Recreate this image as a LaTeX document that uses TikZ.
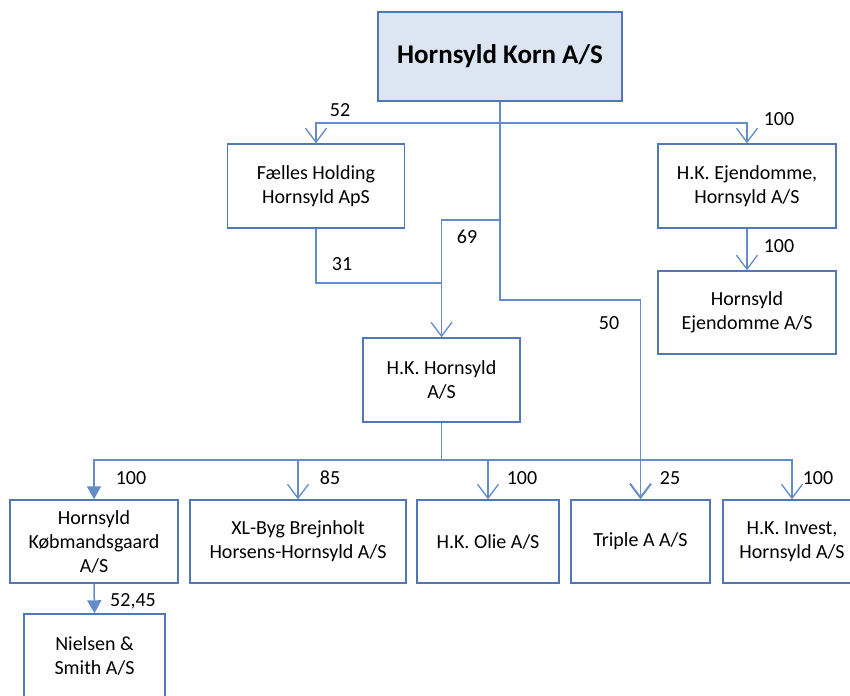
\documentclass[tikz,border=0pt]{standalone}
\usepackage{fontspec}
\setmainfont{Carlito}
\usetikzlibrary{arrows.meta,calc}
\definecolor{bordc}{RGB}{79,120,180}
\definecolor{linec}{RGB}{100,140,200}
\definecolor{topfill}{RGB}{220,230,242}
\begin{document}
\begin{tikzpicture}[x=1pt,y=-1pt,
  box/.style={draw=bordc,line width=1.4pt,fill=white,align=center,inner sep=2pt,
    font=\fontsize{20}{24}\selectfont},
  ln/.style={draw=linec,line width=1.5pt},
  arr/.style={ln,-{Straight Barb[length=14pt,width=21pt,line width=1.3pt]}},
  arrF/.style={ln,-{Triangle[length=13pt,width=14pt]}},
  arrB/.style={ln,line width=1.8pt,-{Straight Barb[length=14pt,width=21pt,line width=2pt]}},
  lab/.style={font=\fontsize{20}{22}\selectfont,anchor=center}]
\clip (0,0) rectangle (850,695);
\fill[white] (0,0) rectangle (850,695);
% boxes
\node[box,fill=topfill,minimum width=244pt,minimum height=89pt,font=\fontsize{27}{30}\selectfont\bfseries] (top) at (500,56.5) {Hornsyld Korn A/S};
\node[box,minimum width=177pt,minimum height=84pt] (fh) at (316,186) {Fælles Holding\\Hornsyld ApS};
\node[box,minimum width=178pt,minimum height=84pt] (hke) at (747,186) {H.K. Ejendomme,\\Hornsyld A/S};
\node[box,minimum width=178pt,minimum height=83pt] (hei) at (747,312.5) {Hornsyld\\Ejendomme A/S};
\node[box,minimum width=157pt,minimum height=84pt] (hkh) at (441.5,380) {H.K. Hornsyld\\A/S};
\node[box,minimum width=168pt,minimum height=83pt] (kob) at (94,541.5) {Hornsyld\\Købmandsgaard\\A/S};
\node[box,minimum width=216pt,minimum height=83pt] (xl) at (298,541.5) {XL-Byg Brejnholt\\Horsens-Hornsyld A/S};
\node[box,minimum width=142pt,minimum height=83pt] (olie) at (488,541.5) {H.K. Olie A/S};
\node[box,minimum width=139pt,minimum height=83pt] (tri) at (640.5,541.5) {Triple A A/S};
\node[box,minimum width=138pt,minimum height=83pt] (inv) at (792,541.5) {H.K. Invest,\\Hornsyld A/S};
\node[box,minimum width=141pt,minimum height=84pt] (ns) at (94.5,656) {Nielsen \&\\Smith A/S};
% junctions
\coordinate (j1) at (500,123);
\coordinate (j2) at (500,220);
\coordinate (j3) at (640.5,300);
\coordinate (j4) at (441.5,283);
\coordinate (j5) at (441.5,460);
% connectors
\draw[arr] (top.south) -- (j1) -| (fh.north);
\draw[arr] (j1) -| (hke.north);
\draw[arr] (j1) -- (j2) -| (hkh.north);
\draw[ln] (fh.south) |- (j4);
\draw[arr] (hke.south) -- (hei.north);
\draw[ln] (hkh.south) -- (j5);
\draw[arrF] (j5) -| (kob.north);
\draw[arr] (j5) -| (xl.north);
\draw[arr] (j5) -| (olie.north);
\draw[arr] (j5) -| (inv.north);
\draw[arrB] (j2) |- (j3) -- (tri.north);
\draw[arrF] (kob.south) -- (ns.north);
% labels
\node[lab] (l52) at (340,110) {52};
\node[lab] (l100a) at (779,119) {100};
\node[lab] (l69) at (467,237) {69};
\node[lab] (l31) at (342,264) {31};
\node[lab] (l50) at (609,323) {50};
\node[lab] (l100b) at (779,246) {100};
\node[lab] (l100c) at (131,478) {100};
\node[lab] (l85) at (330,478) {85};
\node[lab] (l100d) at (522,478) {100};
\node[lab] (l25) at (670,478) {25};
\node[lab] (l100e) at (818,478) {100};
\node[lab] (l5245) at (133,601) {52,45};
\end{tikzpicture}
\end{document}
